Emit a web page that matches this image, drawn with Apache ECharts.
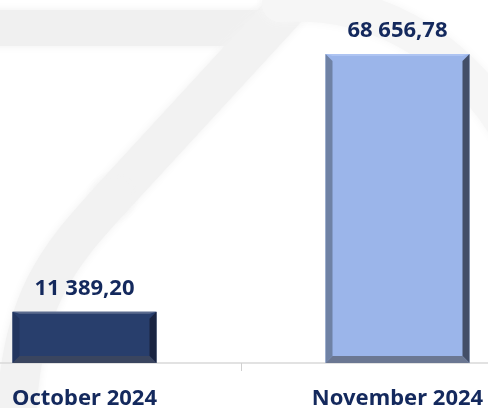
<!DOCTYPE html>
<html lang="en">
<head>
    <meta charset="UTF-8">
    <title>Monthly totals</title>
    <script src="https://cdn.jsdelivr.net/npm/echarts@6/dist/echarts.min.js"></script>
    <style>
        html, body { margin: 0; padding: 0; background: #fff; }
        #chart { width: 488px; height: 408px; }
    </style>
</head>
<body>
    <div id="chart"></div>
    <script>
        var months = ['October 2024', 'November 2024'];
        var totals = [11389.20, 68656.78];

        // face / left / right / bottom / top bevel colours per bar
        var faceColors = ['#283e6c', '#9bb5ea'];
        var bevelColors = [
            { left: '#22355f', right: '#1a2441', bottom: '#3a455f', top: '#5b6b8e' },
            { left: '#6f82a5', right: '#434e68', bottom: '#6b7792', top: '#aec4f2' }
        ];

        var textColor = '#14295d';
        var barW = 144;

        function fmt(v) {
            var p = v.toFixed(2).split('.');
            return p[0].replace(/\B(?=(\d{3})+(?!\d))/g, ' ') + ',' + p[1];
        }

        var wmStyle = function (col, w) {
            return { fill: null, stroke: col, lineWidth: w, lineCap: 'round', shadowBlur: 10, shadowColor: col };
        };

        var chart = echarts.init(document.getElementById('chart'));

        chart.setOption({
            backgroundColor: '#ffffff',
            animation: false,
            // faint logo watermark behind the bars
            graphic: [
                {
                    type: 'line', z: -10, silent: true,
                    shape: { x1: -30, y1: 28, x2: 262, y2: 28 },
                    style: wmStyle('#f0f0f0', 36)
                },
                {
                    type: 'line', z: -10, silent: true,
                    shape: { x1: 285, y1: 10, x2: 112, y2: 198 },
                    style: wmStyle('#f2f2f2', 40)
                },
                {
                    type: 'bezierCurve', z: -10, silent: true,
                    shape: { x1: 112, y1: 198, cpx1: 60, cpy1: 255, cpx2: 18, cpy2: 300, x2: 16, y2: 430 },
                    style: wmStyle('#f2f2f2', 40)
                },
                {
                    type: 'bezierCurve', z: -10, silent: true,
                    shape: { x1: 280, y1: 4, cpx1: 370, cpy1: -2, cpx2: 450, cpy2: 40, x2: 505, y2: 125 },
                    style: wmStyle('#f6f6f6', 36)
                }
            ],
            grid: { left: -72, right: -66, top: 48, bottom: 45, outerBoundsMode: 'none', containLabel: false },
            xAxis: {
                type: 'category',
                data: months,
                axisLine: { lineStyle: { color: '#d9d9d9', width: 1.5 } },
                axisTick: { show: true, length: 8, lineStyle: { color: '#d0d0d0' } },
                axisLabel: {
                    margin: 25,
                    color: textColor,
                    fontFamily: 'Noto Sans',
                    fontWeight: 'bold',
                    fontSize: 22
                }
            },
            yAxis: {
                type: 'value',
                min: 0,
                max: 70000,
                show: false,
                splitLine: { show: false }
            },
            series: [
                {
                    type: 'bar',
                    barWidth: barW,
                    data: totals.map(function (v, i) {
                        return { value: v, itemStyle: { color: faceColors[i] } };
                    }),
                    label: {
                        show: true,
                        position: 'top',
                        distance: 12,
                        color: textColor,
                        fontFamily: 'Noto Sans',
                        fontWeight: 'bold',
                        fontSize: 22,
                        formatter: function (p) { return fmt(p.value); }
                    },
                    z: 2
                },
                {
                    type: 'custom',
                    z: 3,
                    silent: true,
                    data: totals.map(function (v, i) { return [i, v]; }),
                    renderItem: function (params, api) {
                        var i = params.dataIndex;
                        var top = api.coord([api.value(0), api.value(1)]);
                        var base = api.coord([api.value(0), 0]);
                        var x0 = top[0] - barW / 2, x1 = top[0] + barW / 2;
                        var y0 = top[1], y1 = base[1];
                        var s = 7, t = 2;
                        var c = bevelColors[i];
                        return {
                            type: 'group',
                            children: [
                                { type: 'polygon', shape: { points: [[x0, y0], [x1, y0], [x1 - s, y0 + t], [x0 + s, y0 + t]] }, style: { fill: c.top } },
                                { type: 'polygon', shape: { points: [[x0, y0], [x0 + s, y0 + s], [x0 + s, y1 - s], [x0, y1]] }, style: { fill: c.left } },
                                { type: 'polygon', shape: { points: [[x1, y0], [x1, y1], [x1 - s, y1 - s], [x1 - s, y0 + s]] }, style: { fill: c.right } },
                                { type: 'polygon', shape: { points: [[x0, y1], [x0 + s, y1 - s], [x1 - s, y1 - s], [x1, y1]] }, style: { fill: c.bottom } }
                            ]
                        };
                    }
                }
            ]
        });
    </script>
</body>
</html>
